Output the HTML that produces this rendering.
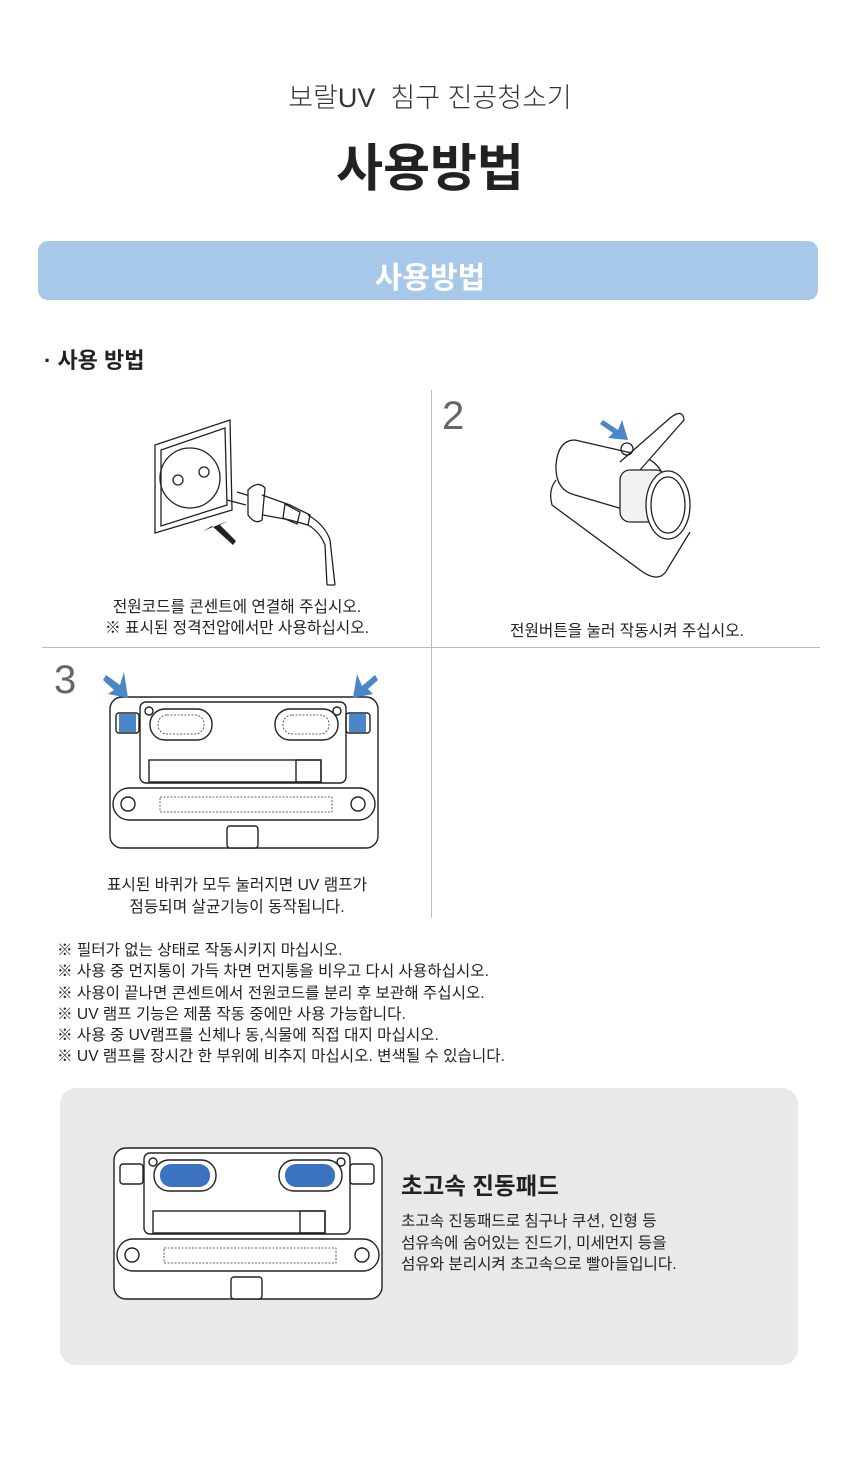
<!DOCTYPE html>
<html><head><meta charset="utf-8">
<style>
body{margin:0;background:#fff;}
#p{position:relative;width:860px;height:1472px;overflow:hidden;font-family:"Liberation Sans","Noto Sans CJK KR",sans-serif;color:#222;}
.t{position:absolute;white-space:nowrap;}
.c{text-align:center;}
</style></head><body><div id="p">
<div class="t c" style="left:0;width:860px;top:76px;font-size:27px;color:#333;font-weight:300;">보랄UV &nbsp;침구 진공청소기</div>
<div class="t c" style="left:0;width:860px;top:127px;font-size:51px;font-weight:bold;color:#222;">사용방법</div>
<div style="position:absolute;left:38px;top:241px;width:780px;height:59px;background:#a7c8e8;border-radius:10px;"></div>
<div class="t c" style="left:0;width:860px;top:253px;font-size:30px;font-weight:bold;color:#fff;">사용방법</div>
<div class="t" style="left:44px;top:343px;font-size:22px;font-weight:bold;">· 사용 방법</div>

<svg style="position:absolute;left:0;top:0" width="860" height="1472">
<line x1="431.5" y1="390" x2="431.5" y2="918" stroke="#bbb"/>
<line x1="42" y1="647.5" x2="820" y2="647.5" stroke="#bbb"/>
<rect x="60" y="1088" width="738" height="277" rx="16" fill="#e9e9ea"/>
<!-- plug -->
<g fill="none" stroke="#222" stroke-width="1.3">
<polygon points="155,445 230,420 232,510 155,533"/>
<polygon points="161,450 225,428 227,505 161,526"/>
<circle cx="190" cy="478" r="30"/>
<circle cx="178" cy="480" r="5"/><circle cx="204" cy="472" r="5"/>
<path d="M227,500 L246,505 M237,492 L250,496"/>
<path d="M248,490 Q258,480 265,488 L262,520 Q255,525 248,515 Z" fill="#fff"/>
<path d="M262,495 L290,505 L310,515 L308,525 L290,520 L263,515"/>
<path d="M285,504 L300,512 L297,524 L283,518Z"/>
<path d="M308,515 Q325,525 330,540 L335,585 M308,525 Q320,532 325,545 L327,585 M327,585 L335,585"/>
</g>
<polygon points="203,531 212,526 233,545 236,541 220,525 228,521" fill="#222"/>
<!-- vacuum -->
<g fill="none" stroke="#222" stroke-width="1.3">
<path d="M556,480 Q548,490 552,505 L640,570 Q660,585 668,568 L690,532" fill="#fff"/>
<path d="M575,440 L640,455 Q660,462 665,480 L660,520 L575,495 Q555,490 556,465 Q558,440 575,440Z" fill="#fff"/>
<path d="M620,462 L670,418 Q683,408 684,420 L640,470" fill="#fff"/>
<rect x="620" y="470" width="46" height="52" rx="10" fill="#f2f2f2"/>
<ellipse cx="668" cy="505" rx="22" ry="34" fill="#fff"/>
<ellipse cx="668" cy="505" rx="17" ry="28"/>
<circle cx="627" cy="449" r="6"/>
</g>
<polygon points="603,420 618,430 622,420 628,440 608,438 613,433 600,424" fill="#4a86c8"/>
<g fill="none" stroke="#222" stroke-width="1.4">
<rect x="110" y="697" width="268" height="151" rx="12" fill="#fff"/>
<rect x="140" y="702" width="206" height="81" rx="6"/>
<rect x="149" y="760" width="172" height="22"/>
<rect x="296" y="760" width="25" height="22"/>
<circle cx="149" cy="711" r="4"/><circle cx="337" cy="711" r="4"/>
<rect x="150" y="709" width="62" height="31" rx="15"/>
<rect x="275" y="709" width="63" height="31" rx="15"/>
<rect x="113" y="788" width="262" height="32" rx="16"/>
<circle cx="128" cy="804" r="7"/><circle cx="358" cy="804" r="7"/>
<rect x="227" y="826" width="31" height="22" rx="3" fill="#fff"/>
<rect x="116" y="713" width="23" height="20" rx="3"/>
<rect x="346" y="713" width="24" height="20" rx="3"/>
</g>
<g fill="none" stroke="#333" stroke-width="0.8" stroke-dasharray="2 1.5">
<rect x="160" y="797" width="172" height="15"/>
<rect x="158" y="715" width="46" height="19" rx="9"/><rect x="283" y="715" width="46" height="19" rx="9"/>
</g>
<rect x="119" y="714" width="17" height="18" fill="#4a86c8"/>
<rect x="349" y="714" width="17" height="18" fill="#4a86c8"/>
<polygon points="106,675 120,685 124,672 128,698 108,694 114,690 103,680" fill="#4a86c8"/>
<polygon points="375,675 362,686 357,674 353,698 373,694 368,689 378,680" fill="#4a86c8"/>
<g transform="translate(4,451)">
<g fill="none" stroke="#222" stroke-width="1.4">
<rect x="110" y="697" width="268" height="151" rx="12" fill="#fff"/>
<rect x="140" y="702" width="206" height="81" rx="6"/>
<rect x="149" y="760" width="172" height="22"/>
<rect x="296" y="760" width="25" height="22"/>
<circle cx="149" cy="711" r="4"/><circle cx="337" cy="711" r="4"/>
<rect x="150" y="709" width="62" height="31" rx="15"/>
<rect x="275" y="709" width="63" height="31" rx="15"/>
<rect x="113" y="788" width="262" height="32" rx="16"/>
<circle cx="128" cy="804" r="7"/><circle cx="358" cy="804" r="7"/>
<rect x="227" y="826" width="31" height="22" rx="3" fill="#fff"/>
<rect x="116" y="713" width="23" height="20" rx="3"/>
<rect x="346" y="713" width="24" height="20" rx="3"/>
</g>
<rect x="156" y="713" width="50" height="23" rx="11" fill="#3b73c0"/>
<rect x="281" y="713" width="50" height="23" rx="11" fill="#3b73c0"/>
<rect x="160" y="797" width="172" height="15" fill="none" stroke="#333" stroke-width="0.8" stroke-dasharray="2 1.5"/>
</g>
</svg>

<div class="t" style="left:442px;top:394px;font-size:40px;color:#666;">2</div>
<div class="t" style="left:54px;top:658px;font-size:40px;color:#666;">3</div>
<div class="t c" style="left:42px;width:390px;top:597px;font-size:15.7px;line-height:21px;">전원코드를 콘센트에 연결해 주십시오.<br>※ 표시된 정격전압에서만 사용하십시오.</div>
<div class="t c" style="left:432px;width:390px;top:618px;font-size:15.7px;">전원버튼을 눌러 작동시켜 주십시오.</div>
<div class="t c" style="left:42px;width:390px;top:875px;font-size:15.7px;line-height:22px;">표시된 바퀴가 모두 눌러지면 UV 램프가<br>점등되며 살균기능이 동작됩니다.</div>
<div class="t" style="left:57px;top:940px;font-size:15.6px;line-height:21.3px;">※ 필터가 없는 상태로 작동시키지 마십시오.<br>※ 사용 중 먼지통이 가득 차면 먼지통을 비우고 다시 사용하십시오.<br>※ 사용이 끝나면 콘센트에서 전원코드를 분리 후 보관해 주십시오.<br>※ UV 램프 기능은 제품 작동 중에만 사용 가능합니다.<br>※ 사용 중 UV램프를 신체나 동,식물에 직접 대지 마십시오.<br>※ UV 램프를 장시간 한 부위에 비추지 마십시오. 변색될 수 있습니다.</div>
<div class="t" style="left:401px;top:1167px;font-size:23.5px;font-weight:bold;">초고속 진동패드</div>
<div class="t" style="left:401px;top:1211px;font-size:15.6px;line-height:21.5px;">초고속 진동패드로 침구나 쿠션, 인형 등<br>섬유속에 숨어있는 진드기, 미세먼지 등을<br>섬유와 분리시켜 초고속으로 빨아들입니다.</div>
</div></body></html>
